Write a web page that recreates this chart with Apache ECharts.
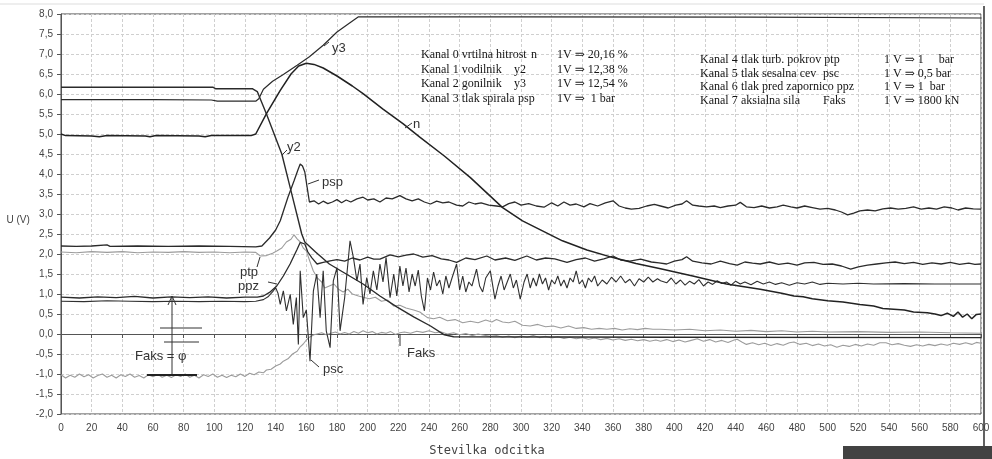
<!DOCTYPE html>
<html>
<head>
<meta charset="utf-8">
<script src="https://cdn.jsdelivr.net/npm/echarts@6/dist/echarts.min.js"></script>
<style>
    html, body {margin: 0; padding: 0; background: #fff;}
    #chart {width: 992px; height: 459px;}
</style>
</head>
<body>
<div id="chart"></div>
<script>
// readings of the scanned plot: [odcitek, U (V)]
var n = [[0, 5.0], [3, 4.96], [20, 4.95], [25, 4.93], [30, 4.96], [55, 4.95], [58, 4.93], [62, 4.96], [90, 4.95], [94, 4.93], [98, 4.96], [124, 4.96],
    [127, 5.0], [134, 5.51], [143, 6.09], [150, 6.5], [155, 6.7], [160, 6.77], [165, 6.74], [171, 6.65], [180, 6.45], [190, 6.2],
    [197, 6.01], [210, 5.62], [223, 5.26], [234, 4.92], [250, 4.45], [267, 3.91], [288, 3.16], [301, 2.83], [314, 2.58], [327, 2.33],
    [343, 2.1], [360, 1.91], [375, 1.76], [391, 1.63], [412, 1.45], [434, 1.25], [456, 1.12], [470, 1.02], [478, 0.95], [484, 0.93],
    [490, 0.88], [500, 0.83], [510, 0.8], [521, 0.74], [530, 0.7], [536, 0.64], [543, 0.62], [550, 0.6], [556, 0.55], [565, 0.53],
    [570, 0.5], [574, 0.46], [578, 0.52], [582, 0.44], [585, 0.55], [588, 0.42], [591, 0.5], [594, 0.38], [597, 0.49], [600, 0.5]];

var y2 = [[0, 6.17], [99, 6.17], [101, 6.13], [125, 6.13], [128, 6.06], [134, 5.5], [144, 4.5], [150, 3.58], [157, 2.5], [159, 2.3],
    [166, 2.05], [175, 1.75], [186, 1.5], [197, 1.25], [208, 0.95], [219, 0.68], [230, 0.43], [241, 0.2], [250, -0.02], [256, -0.07],
    [400, -0.08], [600, -0.09]];

var y3 = [[0, 5.86], [60, 5.86], [98, 5.85], [102, 5.82], [127, 5.82], [129, 5.88], [132, 6.12], [138, 6.32], [145, 6.49],
    [154, 6.72], [162, 6.93], [171, 7.22], [180, 7.55], [188, 7.77], [194, 7.93], [300, 7.93], [450, 7.92], [600, 7.9]];

var psp = [[0, 2.2], [10, 2.19], [20, 2.2], [30, 2.23], [32, 2.19], [50, 2.2], [70, 2.19], [90, 2.2], [110, 2.19], [127, 2.18],
    [131, 2.2], [136, 2.4], [140, 2.6], [143, 2.83], [148, 3.42], [152, 3.83], [154.5, 4.1], [156, 4.25], [157.5, 4.2], [159, 4.05],
    [160, 3.8], [161, 3.55], [162, 3.3], [165, 3.33], [168, 3.25], [171, 3.32], [174, 3.26], [177, 3.3], [180, 3.36], [183, 3.28],
    [186, 3.35], [189, 3.3], [193, 3.38], [197, 3.42], [200, 3.35], [204, 3.38], [208, 3.3], [212, 3.4], [216, 3.38], [221, 3.46],
    [225, 3.38], [229, 3.33], [233, 3.38], [237, 3.3], [241, 3.25], [245, 3.32], [249, 3.28], [253, 3.3], [258, 3.22], [262, 3.2],
    [266, 3.3], [270, 3.25], [274, 3.28], [279, 3.22], [284, 3.2], [288, 3.18], [292, 3.26], [296, 3.3], [300, 3.22], [305, 3.26],
    [310, 3.2], [315, 3.17], [320, 3.28], [324, 3.2], [328, 3.3], [332, 3.22], [336, 3.25], [341, 3.18], [345, 3.26], [350, 3.2],
    [355, 3.28], [360, 3.33], [364, 3.2], [368, 3.15], [372, 3.12], [377, 3.14], [382, 3.2], [387, 3.24], [391, 3.2], [396, 3.15],
    [401, 3.22], [405, 3.25], [408, 3.33], [412, 3.22], [416, 3.2], [421, 3.18], [426, 3.2], [430, 3.16], [435, 3.2], [440, 3.22],
    [443, 3.29], [447, 3.18], [452, 3.16], [457, 3.2], [462, 3.15], [467, 3.18], [471, 3.22], [476, 3.18], [480, 3.15], [485, 3.2],
    [490, 3.16], [495, 3.12], [500, 3.14], [505, 3.1], [509, 3.05], [513, 2.98], [517, 3.02], [521, 3.08], [526, 3.1], [531, 3.08],
    [536, 3.13], [541, 3.15], [546, 3.12], [551, 3.14], [556, 3.18], [561, 3.12], [566, 3.15], [571, 3.12], [576, 3.18], [581, 3.15],
    [585, 3.1], [590, 3.15], [595, 3.13], [600, 3.12]];

var ptp = [[0, 2.05], [10, 2.03], [20, 2.06], [30, 2.04], [40, 2.06], [50, 2.03], [60, 2.05], [70, 2.04], [80, 2.06], [90, 2.04],
    [100, 2.05], [110, 2.03], [120, 2.05], [127, 2.04], [130, 1.95], [134, 1.96], [138, 2.02], [141, 2.08], [144, 2.15], [147, 2.3],
    [150, 2.37], [152, 2.48], [154, 2.38], [156, 2.3], [158, 2.15], [160, 2.08], [162, 1.85], [164.5, 1.58], [167, 1.41], [170, 1.3],
    [172, 1.15], [175, 1.2], [178, 1.25], [181, 1.12], [184, 1.05], [187, 1.12], [190, 1.0], [194, 0.95], [197, 0.92], [201, 0.88],
    [205, 0.92], [209, 0.82], [213, 0.85], [217, 0.7], [221, 0.72], [225, 0.65], [230, 0.6], [234, 0.55], [239, 0.41], [243, 0.38],
    [247, 0.42], [252, 0.33], [257, 0.36], [262, 0.28], [267, 0.32], [272, 0.28], [277, 0.35], [281, 0.3], [284, 0.36], [288, 0.3],
    [292, 0.28], [296, 0.32], [301, 0.22], [306, 0.2], [311, 0.24], [316, 0.18], [321, 0.2], [326, 0.15], [331, 0.2], [336, 0.14],
    [341, 0.16], [346, 0.12], [351, 0.14], [356, 0.12], [361, 0.14], [366, 0.1], [371, 0.13], [376, 0.11], [381, 0.14], [386, 0.12],
    [391, 0.12], [400, 0.1], [410, 0.12], [420, 0.08], [430, 0.1], [440, 0.07], [450, 0.09], [460, 0.06], [470, 0.08], [480, 0.05],
    [490, 0.07], [500, 0.05], [520, 0.06], [540, 0.04], [560, 0.05], [580, 0.03], [600, 0.02]];

var psc = [[0, 0.82], [15, 0.81], [30, 0.83], [45, 0.82], [60, 0.81], [75, 0.82], [90, 0.81], [105, 0.82], [120, 0.81], [127, 0.82],
    [132, 0.86], [135, 0.93], [138.5, 1.08], [140, 1.16], [141.5, 1.02], [143, 0.74], [145, 1.08], [147, 0.58], [149.5, 0.99],
    [151.5, 0.24], [153.5, 0.91], [154.8, -0.26], [156, 1.58], [158, 0.41], [160, 0.6], [161, 0.08], [162.4, -0.68], [164.6, 1.08],
    [166.8, 1.5], [169, 0.41], [171, 1.58], [173, 0.08], [175.5, -0.34], [177.6, 1.33], [180, 1.66], [182, 0.08], [185, 0.91],
    [188.5, 2.33], [190.7, 1.91], [193, 1.33], [195, 1.75], [197, 0.74], [199.4, 1.41], [201.5, 1.0], [203.7, 1.58], [206, 1.1],
    [208, 1.75], [210, 1.3], [212, 1.91], [214.6, 0.91], [217, 1.5], [219, 0.95], [221, 1.7], [223, 1.2], [225, 1.65], [227, 1.05],
    [229, 1.5], [231, 1.2], [233, 1.6], [235, 0.95], [237, 0.58], [239, 1.4], [241, 1.1], [243, 1.55], [245, 1.2], [247, 1.35],
    [249, 1.0], [251, 1.45], [253, 1.15], [255, 1.4], [258, 1.75], [260, 1.1], [262, 1.45], [264, 1.05], [266, 1.3], [268, 1.2],
    [271, 1.62], [273, 1.2], [275, 1.05], [277, 1.4], [280, 1.58], [283, 0.87], [285, 1.2], [287, 1.45], [289, 1.1], [291, 1.3],
    [293, 1.5], [295, 1.15], [297, 1.35], [299.5, 0.87], [302, 1.3], [304, 1.5], [306, 1.15], [308, 1.4], [310, 1.2], [312, 1.5],
    [314, 1.25], [316, 1.4], [318, 1.1], [320, 1.35], [322, 1.25], [324, 1.45], [326, 1.2], [328, 1.35], [330, 1.15], [332, 1.4],
    [334, 1.3], [336, 1.58], [338, 1.25], [340, 1.35], [342, 1.15], [344, 1.4], [346, 1.3], [348, 1.45], [350, 1.2], [353, 1.35],
    [356, 1.25], [359, 1.42], [362, 1.3], [365, 1.45], [368, 1.28], [371, 1.37], [374, 1.2], [377, 1.38], [380, 1.3], [383, 1.42],
    [386, 1.3], [389, 1.38], [391, 1.33], [395, 1.28], [398, 1.4], [401, 1.25], [404, 1.35], [407, 1.22], [410, 1.32], [413, 1.25],
    [416, 1.36], [419, 1.2], [422, 1.3], [425, 1.24], [428, 1.33], [431, 1.26], [434, 1.3], [437, 1.22], [440, 1.32], [443, 1.25],
    [446, 1.3], [450, 1.23], [454, 1.32], [458, 1.25], [462, 1.3], [466, 1.24], [470, 1.28], [475, 1.22], [480, 1.28], [485, 1.25],
    [490, 1.3], [495, 1.24], [500, 1.27], [510, 1.25], [520, 1.27], [530, 1.25], [550, 1.26], [570, 1.25], [600, 1.25]];

var ppz = [[0, 0.92], [12, 0.9], [24, 0.93], [36, 0.91], [48, 0.94], [60, 0.9], [72, 0.93], [84, 0.91], [96, 0.93], [108, 0.9],
    [120, 0.92], [128, 0.92], [132, 0.95], [136, 1.04], [140.7, 1.2], [145, 1.45], [149.4, 1.75], [154, 2.12], [156, 2.29],
    [157, 2.33], [159, 2.25], [161, 2.05], [163.5, 1.91], [167, 1.75], [171, 1.79], [175.5, 1.83], [180, 1.86], [185, 1.82],
    [190, 1.9], [195, 1.85], [200, 1.92], [204, 1.87], [208, 1.87], [214.6, 1.98], [220, 1.93], [225, 1.97], [230, 2.0], [236, 1.92],
    [242, 1.96], [248, 1.88], [253, 1.85], [258, 1.79], [264, 1.9], [270, 1.86], [277.7, 1.95], [283, 1.85], [290, 1.9], [296, 1.84],
    [303.8, 1.95], [310, 1.85], [316, 1.9], [322, 1.88], [330, 1.79], [336, 1.86], [342, 1.9], [348, 1.82], [354, 1.88],
    [360, 1.95], [365, 1.85], [371, 1.82], [378, 1.87], [385, 1.8], [390, 1.78], [395, 1.75], [400, 1.82], [405, 1.86], [408, 1.93],
    [412, 1.82], [418, 1.78], [424, 1.75], [430, 1.82], [436, 1.76], [441, 1.72], [446, 1.8], [451, 1.77], [456, 1.75],
    [462, 1.8], [468, 1.74], [474, 1.77], [480, 1.72], [485, 1.78], [491, 1.79], [497, 1.74], [503, 1.75], [509, 1.7],
    [515, 1.62], [520, 1.68], [526, 1.72], [532, 1.75], [538, 1.78], [544, 1.8], [550, 1.76], [556, 1.79], [562, 1.74],
    [568, 1.78], [574, 1.75], [580, 1.79], [586, 1.74], [592, 1.77], [596, 1.74], [600, 1.75]];

var faks = [[0, -1.02], [3, -1.1], [6, -1.03], [9, -1.08], [12, -1.0], [15, -1.07], [18, -1.02], [21, -1.1], [24, -1.04],
    [27, -1.0], [30, -1.08], [33, -1.03], [36, -1.1], [39, -1.02], [42, -1.06], [45, -1.0], [48, -1.08], [51, -1.04], [54, -1.1],
    [57, -1.02], [60, -1.07], [63, -1.01], [66, -1.08], [69, -1.03], [72, -1.09], [75, -1.02], [78, -1.06], [81, -1.0], [84, -1.08],
    [87, -1.03], [90, -1.1], [93, -1.02], [96, -1.06], [99, -1.0], [102, -1.08], [105, -1.03], [108, -1.09], [111, -1.03],
    [114, -1.07], [117, -1.0], [120, -1.06], [123, -0.98], [126, -1.02], [129, -0.95], [132, -0.97], [134, -0.9], [137, -0.88],
    [140, -0.8], [143, -0.75], [145, -0.68], [148, -0.62], [151, -0.5], [154, -0.43], [156, -0.32], [158, -0.25], [160, -0.15],
    [162, -0.08], [165, -0.02], [167, 0.0], [170, 0.03], [173, -0.02], [176, 0.02], [179, 0.05], [182, 0.0], [185, 0.04], [188, 0.0],
    [191, 0.06], [194, 0.02], [197, 0.08], [200, 0.03], [203, 0.06], [206, 0.0], [209, 0.04], [212, 0.02], [215, 0.06], [218, -0.01],
    [221, 0.03], [224, 0.05], [228, 0.02], [232, 0.07], [236, 0.04], [240, 0.08], [244, 0.03], [248, 0.05], [252, 0.0], [256, 0.03],
    [260, -0.02], [264, 0.01], [268, -0.04], [272, 0.0], [276, -0.03], [280, -0.06], [284, -0.04], [288, -0.08], [292, -0.05],
    [296, -0.09], [300, -0.05], [304, -0.08], [308, -0.04], [312, -0.09], [316, -0.06], [320, -0.1], [324, -0.07], [328, -0.11],
    [332, -0.08], [336, -0.12], [340, -0.09], [344, -0.13], [348, -0.1], [352, -0.14], [356, -0.11], [360, -0.15], [364, -0.12],
    [368, -0.16], [372, -0.13], [376, -0.17], [380, -0.14], [384, -0.18], [388, -0.15], [391, -0.18], [395, -0.14], [399, -0.19],
    [403, -0.15], [407, -0.2], [411, -0.16], [415, -0.12], [419, -0.18], [423, -0.14], [427, -0.2], [431, -0.16], [435, -0.21],
    [439, -0.15], [441, -0.13], [444, -0.2], [447, -0.26], [451, -0.22], [455, -0.27], [459, -0.23], [463, -0.29], [467, -0.24],
    [471, -0.28], [475, -0.22], [478, -0.2], [482, -0.26], [486, -0.23], [490, -0.29], [494, -0.25], [498, -0.3], [502, -0.27],
    [506, -0.33], [510, -0.28], [514, -0.31], [518, -0.26], [522, -0.3], [526, -0.25], [530, -0.28], [534, -0.22], [538, -0.22],
    [542, -0.27], [546, -0.24], [550, -0.28], [554, -0.31], [558, -0.27], [562, -0.3], [566, -0.26], [570, -0.29], [574, -0.25],
    [578, -0.28], [582, -0.23], [586, -0.26], [590, -0.22], [594, -0.26], [597, -0.21], [600, -0.23]];

// legend boxes (printed on the plot)
var kanaliLevo = ['Kanal 0 vrtilna hitrost', 'Kanal 1 vodilnik', 'Kanal 2 gonilnik', 'Kanal 3 tlak spirala'];
var oznakeLevo = ['n', 'y2', 'y3', 'psp'];
var faktorjiLevo = ['1V \u21D2 20,16 %', '1V \u21D2 12,38 %', '1V \u21D2 12,54 %', '1V \u21D2  1 bar'];
var kanaliDesno = ['Kanal 4', 'Kanal 5', 'Kanal 6', 'Kanal 7'];
var opisiDesno = ['tlak turb. pokrov ptp', 'tlak sesalna cev', 'tlak pred zapornico ppz', 'aksialna sila'];
var oznakeDesno = ['', 'psc', '', 'Faks'];
var faktorjiDesno = ['1 V \u21D2 1     bar', '1 V \u21D2 0,5 bar', '1 V \u21D2 1  bar', '1 V \u21D2 1800 kN'];

var dark = '#2b2b2b', light = '#9c9c9c';
var serif = '12px "Liberation Serif", "DejaVu Serif", serif';
var hand = '13px "Liberation Sans", "DejaVu Sans", sans-serif';

function lineSeries(name, data, color, width) {
    return {
        name: name,
        type: 'line',
        data: data,
        showSymbol: false,
        symbol: 'none',
        animation: false,
        z: 3,
        lineStyle: {color: color, width: width}
    };
}

function txt(text, x, y, font, color) {
    return {
        type: 'text',
        z: 10,
        style: {
            text: text, x: x, y: y, font: font, fill: color || '#151515',
            textAlign: 'left', textVerticalAlign: 'middle', align: 'left', verticalAlign: 'middle'
        }
    };
}

function ln(x1, y1, x2, y2, color, w) {
    return {
        type: 'line', z: 10,
        shape: {x1: x1, y1: y1, x2: x2, y2: y2},
        style: {stroke: color || '#333', lineWidth: w || 1}
    };
}

var oznakaX = [531, 514, 514, 518];
var graphics = [];
for (var i = 0; i < 4; i++) {
    var yl = 55 + i * 14.5, yr = 60 + i * 13.6;
    graphics.push(txt(kanaliLevo[i], 421, yl, serif));
    graphics.push(txt(oznakeLevo[i], oznakaX[i], yl, serif));
    graphics.push(txt(faktorjiLevo[i], 557, yl, serif));
    graphics.push(txt(kanaliDesno[i], 700, yr, serif));
    graphics.push(txt(opisiDesno[i], 741, yr, serif));
    if (oznakeDesno[i]) graphics.push(txt(oznakeDesno[i], 823, yr, serif));
    graphics.push(txt(faktorjiDesno[i], 884, yr, serif));
}

// handwritten notes on the scan
graphics.push(txt('y3', 332, 48, hand, '#333'));
graphics.push(ln(324, 46, 329, 42));
graphics.push(txt('n', 413, 124, hand, '#333'));
graphics.push(ln(405, 128, 412, 123));
graphics.push(txt('y2', 287, 147, hand, '#333'));
graphics.push(ln(282, 155, 287, 150));
graphics.push(txt('psp', 322, 182, hand, '#333'));
graphics.push(ln(308, 184, 319, 180));
graphics.push(txt('ptp', 240, 272, hand, '#333'));
graphics.push(ln(257, 267, 260, 257));
graphics.push(txt('ppz', 238, 286, hand, '#333'));
graphics.push(ln(268, 282, 277, 284));
graphics.push(txt('psc', 323, 369, hand, '#333'));
graphics.push(ln(311, 360, 319, 367));
graphics.push(txt('Faks', 407, 353, hand, '#333'));
graphics.push(ln(400, 334, 400, 346));
graphics.push(txt('Faks = \u03C6', 135, 356, hand, '#333'));
graphics.push(ln(172, 297, 172, 375));
graphics.push({type: 'polyline', z: 10, shape: {points: [[168, 305], [172, 296], [176, 305]]}, style: {stroke: '#333', fill: null, lineWidth: 1}});
graphics.push(ln(160, 328, 202, 328));
graphics.push(ln(164, 342, 199, 342));
graphics.push(ln(147, 375, 197, 375, '#222', 1.8));

// scan edges
graphics.push(ln(0, 4, 984, 4, '#dddddd', 1));
graphics.push(ln(984, 6, 984, 459, '#3a3a3a', 1.6));
graphics.push({type: 'rect', z: 10, shape: {x: 843, y: 446, width: 149, height: 13}, style: {fill: '#424242'}});

var chart = echarts.init(document.getElementById('chart'), null, {renderer: 'canvas'});

var option = {
    backgroundColor: '#ffffff',
    animation: false,
    grid: {
        left: 61, right: 11, top: 14, bottom: 45,
        outerBoundsMode: 'none',
        containLabel: false,
        show: true, borderColor: '#444', borderWidth: 1, backgroundColor: 'transparent'
    },
    xAxis: {
        type: 'value',
        min: 0, max: 600, interval: 20,
        name: 'Stevilka odcitka',
        nameLocation: 'middle',
        nameGap: 31,
        nameTextStyle: {color: '#444', fontFamily: '"DejaVu Sans Mono", monospace', fontSize: 12, padding: [0, 68, 0, 0]},
        axisLine: {lineStyle: {color: '#555', width: 1}},
        axisTick: {length: 4, lineStyle: {color: '#555'}},
        axisLabel: {color: '#444', fontFamily: '"Liberation Sans", Arial, sans-serif', fontSize: 10, margin: 9},
        splitLine: {show: true, lineStyle: {color: '#cfcfcf', width: 1, type: [3, 2]}}
    },
    yAxis: {
        type: 'value',
        min: -2, max: 8, interval: 0.5,
        name: 'U (V)',
        nameLocation: 'middle',
        nameRotate: 0,
        nameGap: 29,
        nameTextStyle: {color: '#444', fontFamily: '"Liberation Sans", Arial, sans-serif', fontSize: 10, verticalAlign: 'top', padding: [1, 0, 0, 0]},
        axisLine: {show: true, lineStyle: {color: '#555', width: 1}},
        axisTick: {show: true, length: 4, lineStyle: {color: '#555'}},
        axisLabel: {
            color: '#444', fontFamily: '"Liberation Sans", Arial, sans-serif', fontSize: 10, margin: 8,
            formatter: function (v) {
                return v.toFixed(1).replace('.', ',');
            }
        },
        splitLine: {show: true, lineStyle: {color: '#cfcfcf', width: 1, type: [3, 2]}}
    },
    series: [
        lineSeries('Faks', faks, light, 1.1),
        lineSeries('ptp', ptp, light, 1.1),
        lineSeries('psc', psc, '#303030', 1.1),
        lineSeries('ppz', ppz, dark, 1.3),
        lineSeries('psp', psp, dark, 1.3),
        lineSeries('y3', y3, dark, 1.2),
        lineSeries('y2', y2, dark, 1.4),
        lineSeries('n', n, '#222', 1.5)
    ],
    graphic: graphics
};

chart.setOption(option);
</script>
</body>
</html>
